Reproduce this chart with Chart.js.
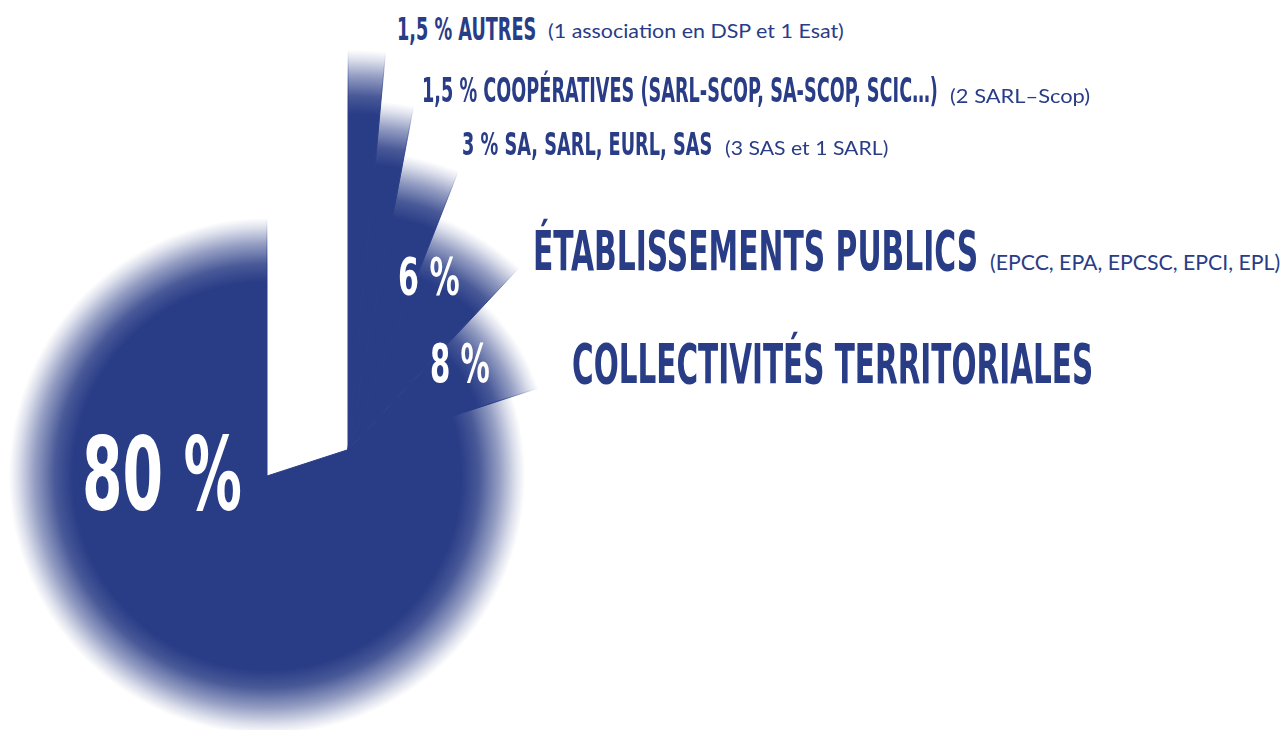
<!DOCTYPE html>
<html lang="fr">
<head>
<meta charset="utf-8">
<title>Statuts juridiques des structures</title>
<script src="https://cdn.jsdelivr.net/npm/chart.js@4.4.1/dist/chart.umd.min.js"></script>
<style>
  html, body { margin: 0; padding: 0; background: #fff; }
  body { width: 1287px; height: 730px; position: relative; overflow: hidden; }
  canvas.pie { position: absolute; }
  /* the big slice and the small ones turn round two different centres */
  #pieMain { left: -133px; top: 76px; }
  #pieSmall { left: -52px; top: 50px; }
  .lbl { position: absolute; white-space: nowrap; line-height: 1; transform-origin: 0 0; color: #293c86; }
  .fort { font-family: "DejaVu Sans Condensed", "Liberation Sans Narrow", "Roboto Condensed", "DejaVu Sans", sans-serif; font-weight: 700; }
  .fin { font-family: Lato, "Open Sans", sans-serif; font-weight: 400; }
  .blanc { color: #fff; }
</style>
</head>
<body>
<canvas id="pieMain" class="pie" width="800" height="800"></canvas>
<canvas id="pieSmall" class="pie" width="800" height="800"></canvas>
<script>
const categories = ["Autres", "Coopératives", "SA, SARL, EURL, SAS", "Établissements publics", "Collectivités territoriales", "Part majoritaire"];
const parts = [1.5, 1.5, 3, 6, 8, 80];              // % of structures
const portees = [100, 87.5, 75, 62.5, 50, 64.5];    // reach of each slice, 0-100
const intitules = ["AUTRES", "COOPÉRATIVES (SARL-SCOP, SA-SCOP, SCIC…)", "SA, SARL, EURL, SAS", "ÉTABLISSEMENTS PUBLICS", "COLLECTIVITÉS TERRITORIALES", ""];
const precisions = ["(1 association en DSP et 1 Esat)", "(2 SARL–Scop)", "(3 SAS et 1 SARL)", "(EPCC, EPA, EPCSC, EPCI, EPL)", "", ""];

const BLEU = "rgb(41, 60, 134)";
const bleu = (a) => "rgba(41, 60, 134, " + a + ")";
const pct = (v) => String(v).replace(".", ",") + " %";

// solid colour, then a soft fade at the rim of each slice
function degrade(ctx) {
  const chart = ctx.chart;
  const r = chart.scales.r;
  if (!r || !r.drawingArea) return BLEU;
  const R = r.getDistanceFromCenterForValue(portees[ctx.dataIndex]);
  const g = chart.ctx.createRadialGradient(r.xCenter, r.yCenter, 0, r.xCenter, r.yCenter, R);
  g.addColorStop(0, BLEU);
  g.addColorStop(1 - 64 / R, BLEU);
  g.addColorStop(1 - 46 / R, bleu(0.85));
  g.addColorStop(1 - 26 / R, bleu(0.5));
  g.addColorStop(1 - 9 / R, bleu(0.15));
  g.addColorStop(1, bleu(0));
  return g;
}

function camembert(id, garder) {
  const couleur = (ctx) => garder(ctx.dataIndex) ? degrade(ctx) : "rgba(0,0,0,0)";
  return new Chart(document.getElementById(id), {
    type: "polarArea",
    data: {
      labels: categories,
      datasets: [{
        data: portees,
        angle: (ctx) => parts[ctx.dataIndex] * 3.6,
        backgroundColor: couleur,
        borderColor: couleur,   // same fill on the edge hides the seams
        borderWidth: 1
      }]
    },
    options: {
      responsive: false,
      animation: false,
      events: [],
      plugins: { legend: { display: false }, tooltip: { enabled: false } },
      scales: { r: { display: false, min: 0, max: 100, startAngle: 0 } }
    }
  });
}

camembert("pieMain", (i) => i === 5);
camembert("pieSmall", (i) => i !== 5);

// labels: x, baseline y, width, cap height
const textes = [
  { t: pct(parts[0]) + " " + intitules[0], c: "fort", x: 397, y: 40, w: 139, cap: 23 },
  { t: precisions[0], c: "fin", x: 548, y: 38, w: 296, cap: 13.5 },
  { t: pct(parts[1]) + " " + intitules[1], c: "fort", x: 422, y: 102, w: 516, cap: 24 },
  { t: precisions[1], c: "fin", x: 950, y: 103, w: 140, cap: 13.5 },
  { t: pct(parts[2]) + " " + intitules[2], c: "fort", x: 462, y: 155, w: 250, cap: 23 },
  { t: precisions[2], c: "fin", x: 725, y: 155, w: 163, cap: 13.5 },
  { t: intitules[3], c: "fort", x: 533, y: 270, w: 445, cap: 40 },
  { t: precisions[3], c: "fin", x: 990, y: 270, w: 290, cap: 15 },
  { t: intitules[4], c: "fort", x: 572, y: 383, w: 521, cap: 40 },
  { t: pct(parts[3]), c: "fort blanc", x: 398, y: 295, w: 62, cap: 37 },
  { t: pct(parts[4]), c: "fort blanc", x: 430, y: 382, w: 60, cap: 39 },
  { t: pct(parts[5]), c: "fort blanc", x: 82, y: 510, w: 160, cap: 73 }
];

textes.forEach((d) => {
  const el = document.createElement("div");
  el.className = "lbl " + d.c;
  el.textContent = d.t;
  el.style.fontSize = (d.cap / 0.72) + "px";
  const strut = document.createElement("span");
  strut.style.cssText = "display:inline-block;width:0;height:0;vertical-align:baseline";
  el.appendChild(strut);
  document.body.appendChild(el);
  const base = strut.offsetTop;
  el.style.left = d.x + "px";
  el.style.top = (d.y - base) + "px";
  el.style.transform = "scaleX(" + (d.w / el.offsetWidth) + ")";
});
</script>
</body>
</html>
